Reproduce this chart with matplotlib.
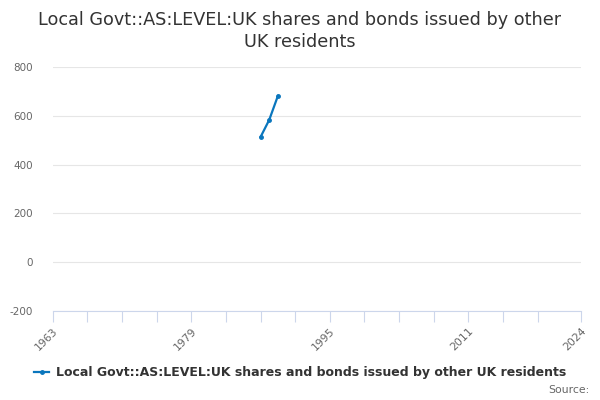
import matplotlib
matplotlib.use("Agg")
import matplotlib.pyplot as plt
from matplotlib.lines import Line2D

years = [1987, 1988, 1989]
values = [513, 583, 681]
series_name = "Local Govt::AS:LEVEL:UK shares and bonds issued by other UK residents"
title = "Local Govt::AS:LEVEL:UK shares and bonds issued by other\nUK residents"
xtick_labels = [1963, 1979, 1995, 2011, 2024]
minor_ticks = list(range(1963, 2020, 4)) + [2024]
yticks = [-200, 0, 200, 400, 600, 800]

plt.rcParams['font.family'] = ['DejaVu Sans']
fig = plt.figure(figsize=(6, 4), dpi=100)
ax = fig.add_axes([0.088, 0.2225, 0.88, 0.61])

color = "#0a76bd"
ax.plot(years, values, color=color, lw=1.6, marker='o', ms=2.5)

ax.set_xlim(1963, 2024)
ax.set_ylim(-200, 800)
ax.set_yticks(yticks)
ax.set_yticklabels([str(v) for v in yticks], fontsize=7.5, color="#666666")
ax.yaxis.grid(True, color="#e6e6e6", lw=0.8)
ax.set_axisbelow(True)
ax.tick_params(axis='y', length=0, pad=14)

ax.set_xticks(minor_ticks, minor=True)
ax.set_xticks(xtick_labels)
ax.set_xticklabels([str(v) for v in xtick_labels], rotation=45, ha='right',
                   rotation_mode='anchor', fontsize=7.8, color="#666666")
ax.tick_params(axis='x', which='both', length=8, color="#ccd6eb", width=0.8, pad=3)

for s in ['top', 'right', 'left']:
    ax.spines[s].set_visible(False)
ax.spines['bottom'].set_color("#ccd6eb")
ax.spines['bottom'].set_linewidth(0.8)

fig.text(0.5, 0.972, title, ha='center', va='top', fontsize=12.7, color="#333333",
         linespacing=1.25)

handle = Line2D([0], [0], color=color, lw=1.6, marker='o', ms=2.5)
fig.legend([handle], [series_name], loc='center', bbox_to_anchor=(0.5, 0.068),
           frameon=False, prop={'weight': 'bold', 'size': 9.0}, handlelength=1.2,
           handletextpad=0.5, labelcolor="#333333")
fig.text(0.982, 0.025, "Source:", ha='right', va='center', fontsize=7.8, color="#666666")

fig.savefig("out.png", dpi=100)
